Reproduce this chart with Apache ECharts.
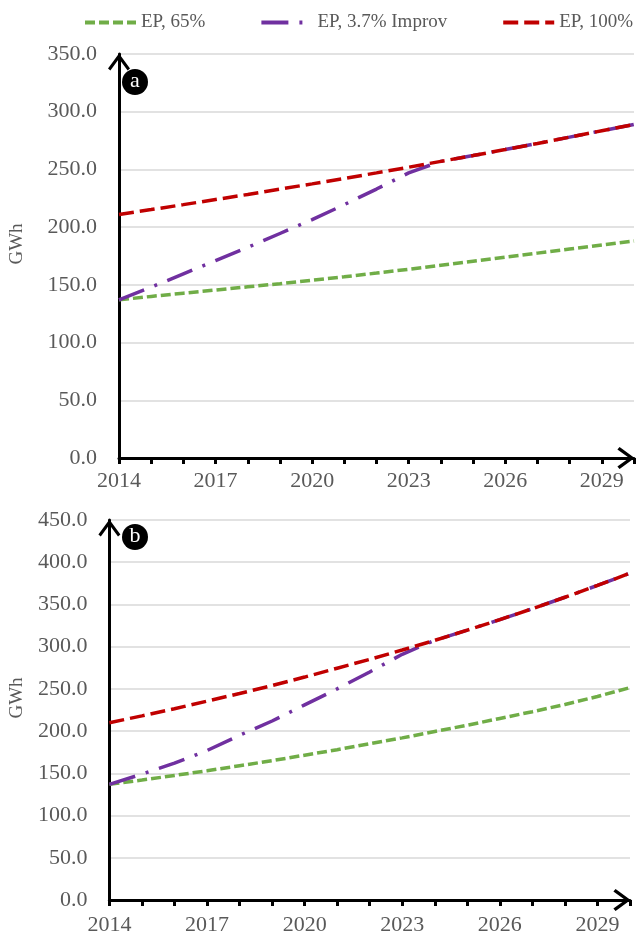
<!DOCTYPE html>
<html><head><meta charset="utf-8">
<script src="https://cdn.jsdelivr.net/npm/echarts@6/dist/echarts.min.js"></script>
<style>html,body{margin:0;padding:0;background:#fff}#c{width:636px;height:936px}</style>
</head><body><div id="c"></div>
<script>
const years = ['2014','2015','2016','2017','2018','2019','2020','2021','2022','2023','2024','2025','2026','2027','2028','2029','2030'];
const seriesNames = ['EP, 65%', 'EP, 3.7% Improv', 'EP, 100%'];
// Panel a
const topGreen  = [137, 140, 142.8, 145.5, 148.3, 151, 154, 157, 160.2, 163.5, 167, 170.5, 174, 177.5, 181, 184.5, 188];
const topPurple = [137, 148, 159.5, 171, 182.5, 194.5, 206.5, 219.5, 233, 247, 257, 262, 267.2, 272.5, 278, 283.5, 289];
const topRed    = [211, 215.2, 219.5, 223.9, 228.3, 232.9, 237.5, 242.2, 247, 251.9, 257, 262, 267.2, 272.5, 278, 283.5, 289];
// Panel b
const botGreen  = [137, 142, 147.5, 153, 159, 165, 171.5, 178, 185, 192, 199.5, 207, 215, 223, 231.5, 241, 251.5];
const botPurple = [137, 149, 162, 177, 195, 212, 231, 250, 270, 291, 307.5, 319.5, 332, 345, 358.5, 372.5, 387];
const botRed    = [210, 218, 226.5, 235.5, 244.5, 254, 264, 274.5, 285, 296, 307.5, 319.5, 332, 345, 358.5, 372.5, 387];
const topYMax = 350, botYMax = 450, yInterval = 50;
const panelLetters = ['a', 'b'];

const FONT = 'Liberation Serif';
const colors = ['#70AD47', '#7030A0', '#C00000'];
const dashes = [[10, 4], [27, 11, 3, 11], [15, 6]];
const chevron = 'path://M11,0 L22,15 L19.6,17.2 L11,5.4 L2.4,17.2 L0,15 Z';

function xAxis(i, margin) {
  return {
    type: 'category', gridIndex: i, data: years, boundaryGap: false,
    axisLine: {show: true, onZero: false, symbol: ['none', chevron], symbolSize: [22, 18], symbolOffset: [0, -8],
      lineStyle: {color: '#000', width: 3}},
    axisTick: {show: true, interval: 0, length: 6, lineStyle: {color: '#000', width: 3}},
    axisLabel: {interval: (idx) => idx % 3 === 0 && idx < 16, margin: margin, fontFamily: FONT, fontSize: 22, color: '#595959'},
    splitLine: {show: false}
  };
}
function yAxis(i, max, gap) {
  return {
    type: 'value', gridIndex: i, min: 0, max: max, interval: yInterval,
    name: 'GWh', nameLocation: 'middle', nameGap: gap, nameRotate: 90,
    nameTextStyle: {fontFamily: FONT, fontSize: 19, color: '#595959', padding: [0, 0, 0, 24]},
    axisLine: {show: true, symbol: ['none', chevron], symbolSize: [22, 18], symbolOffset: [0, -8],
      lineStyle: {color: '#000', width: 3}},
    axisTick: {show: false},
    axisLabel: {formatter: v => v.toFixed(1), margin: 22, fontFamily: FONT, fontSize: 22, color: '#595959'},
    splitLine: {show: true, lineStyle: {color: '#D9D9D9', width: 1.5}}
  };
}
function mk(name, data, k, i) {
  return {
    name: name, type: 'line', xAxisIndex: i, yAxisIndex: i, data: data, symbol: 'none',
    color: colors[k], lineStyle: {color: colors[k], width: 3.5, type: dashes[k], cap: 'butt'},
    z: 2 + k, animation: false
  };
}
const chart = echarts.init(document.getElementById('c'), null, {renderer: 'canvas'});
chart.setOption({
  animation: false,
  backgroundColor: '#fff',
  legend: {
    top: 8, left: 78, width: 570, itemWidth: 51, itemHeight: 4, itemGap: 54, data: seriesNames,
    itemStyle: {opacity: 0},
    lineStyle: {width: 4},
    textStyle: {fontFamily: FONT, fontSize: 19, color: '#595959'}
  },
  grid: [
    {left: 115, right: 2, top: 54, bottom: 478},
    {left: 105, right: 6, top: 520, bottom: 33}
  ],
  xAxis: [xAxis(0, 12), xAxis(1, 14)],
  yAxis: [yAxis(0, topYMax, 92), yAxis(1, botYMax, 81)],
  series: [
    mk(seriesNames[0], topGreen, 0, 0), mk(seriesNames[1], topPurple, 1, 0), mk(seriesNames[2], topRed, 2, 0),
    mk(seriesNames[0], botGreen, 0, 1), mk(seriesNames[1], botPurple, 1, 1), mk(seriesNames[2], botRed, 2, 1)
  ],
  graphic: [
    {type: 'circle', shape: {cx: 135, cy: 82, r: 13}, style: {fill: '#000'}, z: 100},
    {type: 'text', x: 135, y: 81, style: {text: panelLetters[0], fill: '#fff', font: '22px "Liberation Serif"', align: 'center', verticalAlign: 'middle'}, z: 101},
    {type: 'circle', shape: {cx: 135, cy: 537, r: 13}, style: {fill: '#000'}, z: 100},
    {type: 'text', x: 135, y: 536, style: {text: panelLetters[1], fill: '#fff', font: '22px "Liberation Serif"', align: 'center', verticalAlign: 'middle'}, z: 101}
  ]
});
</script></body></html>
